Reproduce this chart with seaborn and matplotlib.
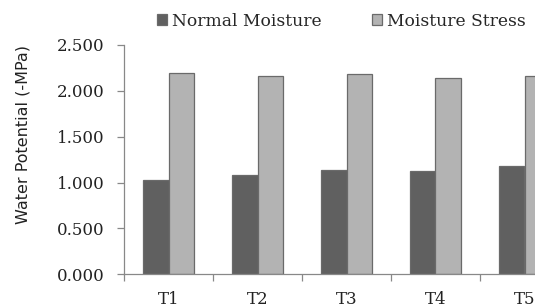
import matplotlib
matplotlib.use('Agg')
import matplotlib.pyplot as plt
import matplotlib.ticker as mticker
import seaborn as sns
import pandas as pd
import numpy as np

treatments = ['T1', 'T2', 'T3', 'T4', 'T5']
normal_moisture = [1.024, 1.078, 1.140, 1.120, 1.180]
moisture_stress = [2.193, 2.156, 2.178, 2.139, 2.164]
series_names = ['Normal Moisture', 'Moisture Stress']

df = pd.DataFrame({
    'treatment': treatments * 2,
    'value': normal_moisture + moisture_stress,
    'series': [series_names[0]] * len(treatments) + [series_names[1]] * len(treatments),
})

sns.set_style('white')
serif = 'DejaVu Serif'

fig = plt.figure(figsize=(5.35, 3.07), dpi=100)
fig.patch.set_facecolor('white')
# plot area runs past the right edge, like the cropped original
ax = fig.add_axes([124 / 535, 32.7 / 307, 445 / 535, 229.5 / 307])

sns.barplot(data=df, x='treatment', y='value', hue='series', hue_order=series_names,
            palette=['#606060', '#b3b3b3'], width=0.584, edgecolor='#6a6a6a',
            linewidth=0.9, saturation=1, ax=ax, legend=False)

ax.set_ylim(0, 2.5)
ax.set_xlim(-0.5, len(treatments) - 0.5)
ax.yaxis.set_major_locator(mticker.MultipleLocator(0.5))
ax.yaxis.set_major_formatter(mticker.FormatStrFormatter('%.3f'))

# boundary ticks between categories, labels centred
ax.set_xticks(np.arange(len(treatments) + 1) - 0.5)
ax.set_xticklabels([])
ax.set_xticks(np.arange(len(treatments)), minor=True)
ax.set_xticklabels(treatments, minor=True, fontsize=12, family=serif, color='#222222')
ax.tick_params(axis='x', which='minor', length=0, pad=12)
ax.tick_params(axis='x', which='major', length=5, width=0.9, color='#888888', direction='out',
               bottom=True)
ax.tick_params(axis='y', length=5, width=0.9, color='#888888', direction='out', left=True, pad=9)
for lbl in ax.get_yticklabels():
    lbl.set_family(serif)
    lbl.set_fontsize(12)
    lbl.set_color('#222222')

for side in ['top', 'right']:
    ax.spines[side].set_visible(False)
for side in ['left', 'bottom']:
    ax.spines[side].set_color('#888888')
    ax.spines[side].set_linewidth(0.9)

ax.set_xlabel('')
ax.set_ylabel('')
fig.text(23 / 535, 1 - 135 / 307, 'Water Potential (-MPa)', rotation=90, ha='center',
         va='center', fontsize=11.5, family='DejaVu Sans', color='#222222')

handles = [plt.Rectangle((0, 0), 1, 1, facecolor=c, edgecolor='#6a6a6a', linewidth=0.9)
           for c in ['#606060', '#b3b3b3']]
fig.legend(handles, series_names, loc='center left', bbox_to_anchor=(157 / 535, 1 - 21 / 307),
           ncol=2, frameon=False, prop={'family': serif, 'size': 12.3},
           handlelength=0.6, handleheight=0.6, handletextpad=0.3, columnspacing=2.9,
           borderpad=0, borderaxespad=0)

fig.savefig('out.png', dpi=100, facecolor='white')
